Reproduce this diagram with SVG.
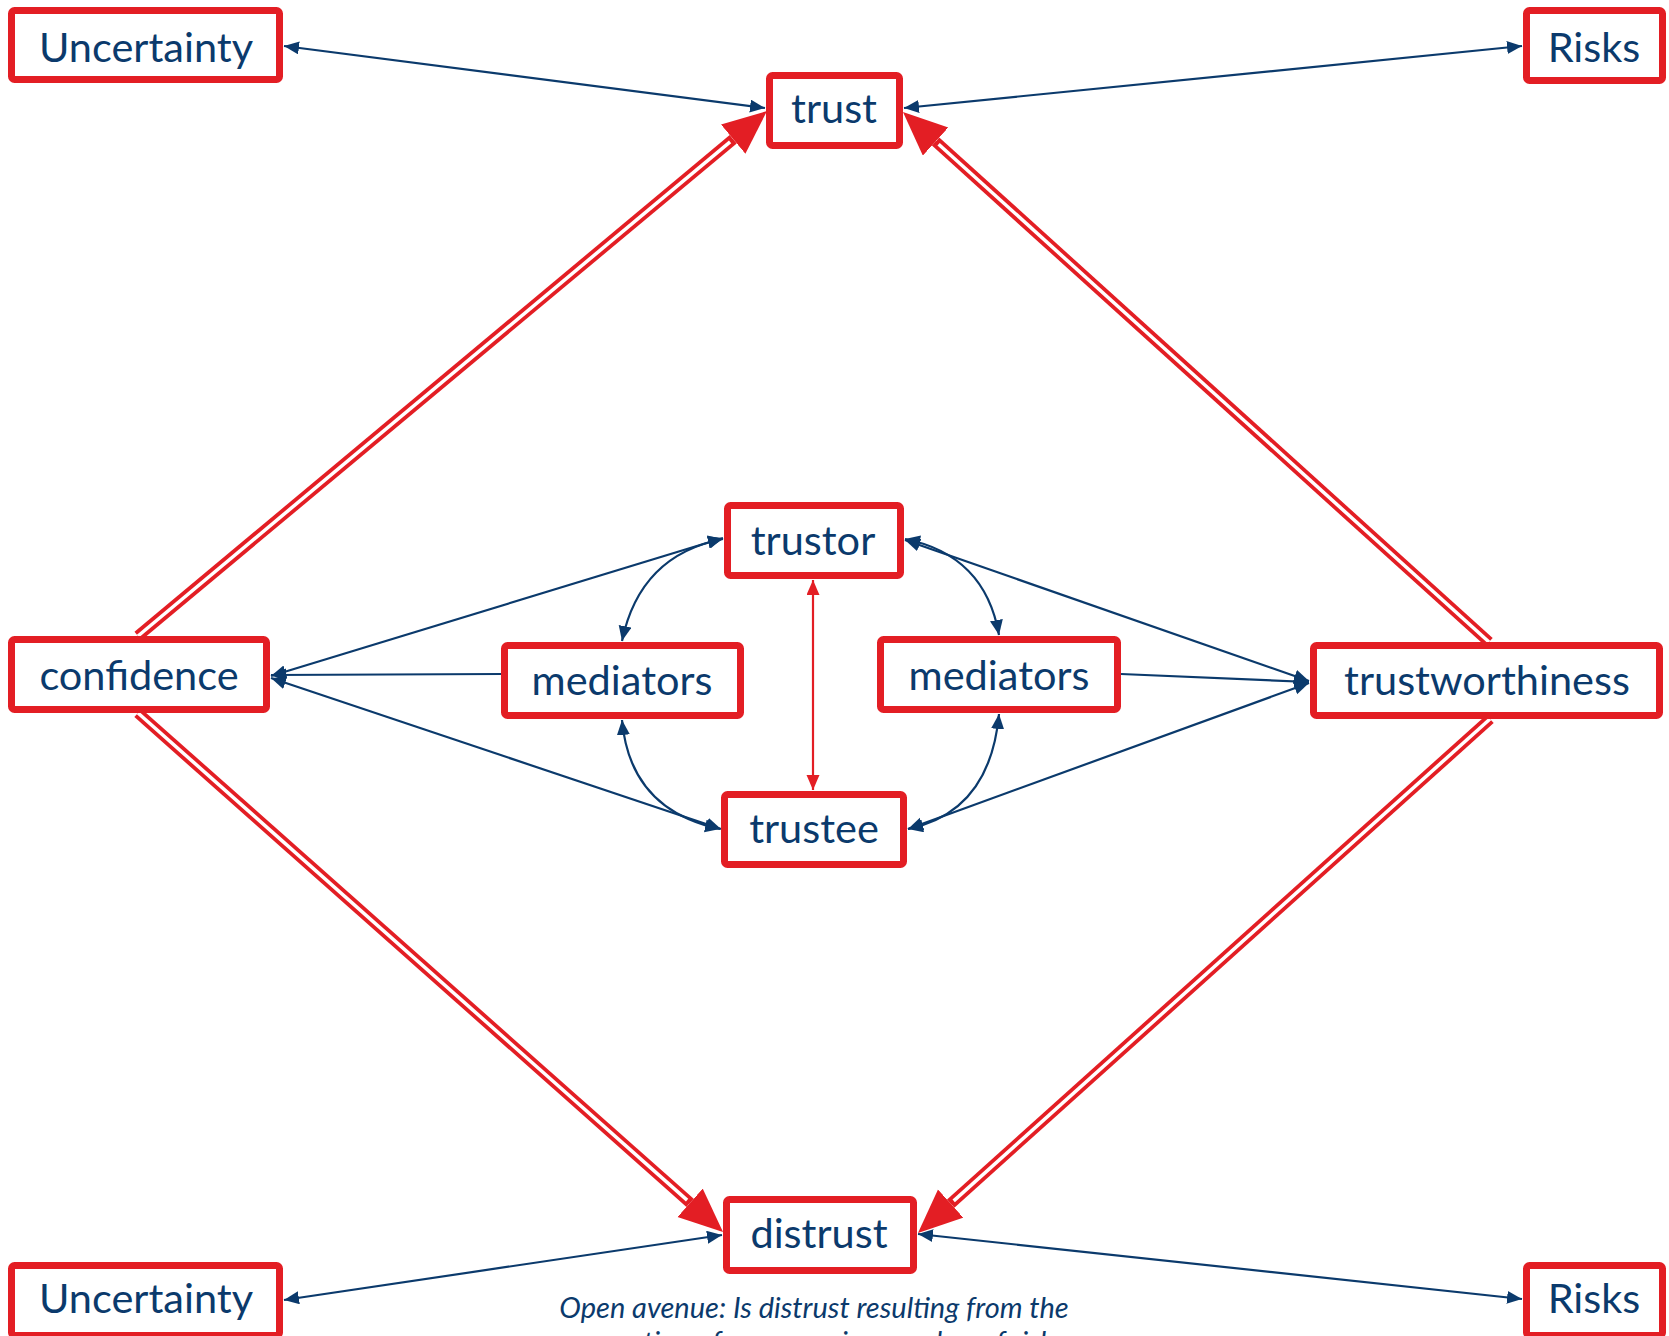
<svg xmlns="http://www.w3.org/2000/svg" width="1669" height="1336" viewBox="0 0 1669 1336">
<style>
.box{fill:#fff;stroke:#e31e24;stroke-width:7;}
.lbl{font-family:Lato,"Open Sans",sans-serif;font-size:41.5px;fill:#0b3a6c;text-anchor:middle;}
.note{font-family:Lato,"Open Sans",sans-serif;font-size:29px;font-style:italic;fill:#0b3a6c;text-anchor:middle;}
.blue{fill:none;stroke:#0b3a6c;stroke-width:2.2;}
.bi{marker-start:url(#ab);marker-end:url(#ab);}
.one{marker-end:url(#ab);}
.redthin{fill:none;stroke:#e31e24;stroke-width:2.2;marker-start:url(#ar);marker-end:url(#ar);}
.redfat{fill:none;stroke:#e31e24;stroke-width:11;marker-end:url(#big);}
.redgap{fill:none;stroke:#fff;stroke-width:3.5;}
</style>
<defs>
<marker id="ab" markerUnits="userSpaceOnUse" markerWidth="16" markerHeight="14" refX="15" refY="6.5" orient="auto-start-reverse"><path d="M0,0 L15,6.5 L0,13 z" fill="#0b3a6c"/></marker>
<marker id="ar" markerUnits="userSpaceOnUse" markerWidth="16" markerHeight="14" refX="15" refY="6.5" orient="auto-start-reverse"><path d="M0,0 L15,6.5 L0,13 z" fill="#e31e24"/></marker>
<marker id="big" markerUnits="userSpaceOnUse" markerWidth="46" markerHeight="40" refX="0" refY="19" orient="auto"><path d="M0,0 L44,19 L0,38 z" fill="#e31e24"/></marker>
</defs>
<g id="connectors">
<path class="redfat" d="M138,636 L733.2,139.2"/>
<path class="redgap" d="M138,636 L730.1,141.8"/>
<path class="redfat" d="M1489,642 L935.6,141.5"/>
<path class="redgap" d="M1489,642 L938.6,144.2"/>
<path class="redfat" d="M138,713 L690.1,1202.8"/>
<path class="redgap" d="M138,713 L687.1,1200.1"/>
<path class="redfat" d="M1490,719 L950.7,1203.6"/>
<path class="redgap" d="M1490,719 L953.7,1200.9"/>
<path class="blue bi" d="M284,46 L765,108"/>
<path class="blue bi" d="M904,108 L1522,46"/>
<path class="blue bi" d="M284,1300 L722,1235"/>
<path class="blue bi" d="M918,1234 L1522,1299"/>
<path class="blue bi" d="M271,676 L723,538"/>
<path class="blue one" d="M501,674 L271,675"/>
<path class="blue bi" d="M271,678 L721,829"/>
<path class="blue bi" d="M905,540 L1309,681"/>
<path class="blue one" d="M1121,674 L1309,682"/>
<path class="blue bi" d="M908,829 L1309,683"/>
<path class="blue bi" d="M723,539 Q640,555 622,641"/>
<path class="blue bi" d="M622,720 Q630,810 720,829"/>
<path class="blue bi" d="M905,539 Q985,555 999,635"/>
<path class="blue bi" d="M999,714 Q990,812 908,829"/>
<path class="redthin" d="M813,580 L813,790"/>
</g>
<g id="n-uncertainty-top"><rect class="box" x="11.5" y="10.5" width="268" height="69" rx="3"/><text class="lbl" x="146" y="62">Uncertainty</text></g>
<g id="n-trust"><rect class="box" x="769.5" y="75.5" width="130" height="70" rx="3"/><text class="lbl" x="834" y="123">trust</text></g>
<g id="n-risks-top"><rect class="box" x="1526.5" y="10.5" width="136" height="70" rx="3"/><text class="lbl" x="1594" y="62">Risks</text></g>
<g id="n-confidence"><rect class="box" x="11.5" y="639.5" width="255" height="70" rx="3"/><text class="lbl" x="139" y="690">confidence</text></g>
<g id="n-trustor"><rect class="box" x="727.5" y="505.5" width="173" height="70" rx="3"/><text class="lbl" x="813" y="555">trustor</text></g>
<g id="n-mediators-left"><rect class="box" x="504.5" y="645.5" width="236" height="70" rx="3"/><text class="lbl" x="622" y="695">mediators</text></g>
<g id="n-trustee"><rect class="box" x="724.5" y="794.5" width="179" height="70" rx="3"/><text class="lbl" x="814" y="843">trustee</text></g>
<g id="n-mediators-right"><rect class="box" x="880.5" y="639.5" width="237" height="70" rx="3"/><text class="lbl" x="999" y="690">mediators</text></g>
<g id="n-trustworthiness"><rect class="box" x="1313.5" y="645.5" width="346" height="70" rx="3"/><text class="lbl" x="1487" y="695">trustworthiness</text></g>
<g id="n-distrust"><rect class="box" x="726.5" y="1199.5" width="187" height="71" rx="3"/><text class="lbl" x="819" y="1248">distrust</text></g>
<g id="n-uncertainty-bottom"><rect class="box" x="11.5" y="1265.5" width="268" height="70" rx="3"/><text class="lbl" x="146" y="1313">Uncertainty</text></g>
<g id="n-risks-bottom"><rect class="box" x="1526.5" y="1265.5" width="136" height="70" rx="3"/><text class="lbl" x="1594" y="1313">Risks</text></g>
<g id="note"><text class="note" x="814" y="1318">Open avenue: Is distrust resulting from the</text><text class="note" x="814" y="1352">perception of an excessive number of risks</text></g>
</svg>
